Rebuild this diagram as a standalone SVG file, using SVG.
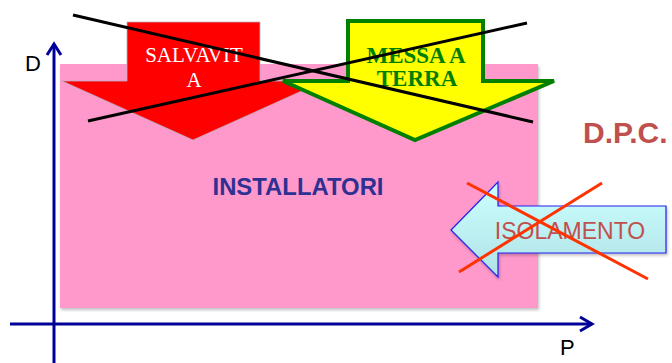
<svg xmlns="http://www.w3.org/2000/svg" width="672" height="363" viewBox="0 0 672 363">
<defs>
<style>
.ax{stroke:#000099;stroke-width:3;fill:none}
.lbl{font-family:"Liberation Sans",Arial,sans-serif;font-size:22px;fill:#000}
.cross{stroke:#000;stroke-width:3}
.rx{stroke:#ff3300;stroke-width:3}
</style>
<linearGradient id="cy" x1="0" y1="0" x2="0" y2="1">
<stop offset="0" stop-color="#ccffff"/>
<stop offset="1" stop-color="#b0e2e6"/>
</linearGradient>
<filter id="sh" x="-5%" y="-5%" width="110%" height="110%">
<feDropShadow dx="1" dy="2" stdDeviation="1.5" flood-color="#000" flood-opacity="0.25"/>
</filter>
</defs>
<rect width="672" height="363" fill="#fff"/>
<g id="installatori">
<rect x="60" y="64" width="478" height="244" fill="#ff99cc" filter="url(#sh)"/>
<text x="298" y="195" font-family="Liberation Sans,Arial,sans-serif" font-weight="bold" font-size="23" fill="#2e3192" text-anchor="middle" textLength="171" lengthAdjust="spacingAndGlyphs">INSTALLATORI</text>
</g>
<g id="axes">
<line class="ax" x1="54" y1="44" x2="54" y2="363"/>
<polyline class="ax" points="47,55 54,44 61,55"/>
<line class="ax" x1="10" y1="324" x2="592" y2="324"/>
<polyline class="ax" points="580,317 592,324 580,331"/>
<text class="lbl" x="25" y="71">D</text>
<text class="lbl" x="560" y="355">P</text>
</g>
<g id="salvavita">
<polygon points="127,22 260,22 260,81 324,81 193,140 62,81 127,81" fill="#ff0000" stroke="#b0b0c0" stroke-width="0.8"/>
<text font-family="Liberation Serif,'Times New Roman',serif" font-size="21" fill="#fff" text-anchor="middle"><tspan x="194" y="62">SALVAVIT</tspan><tspan x="194" y="87">A</tspan></text>
</g>
<g id="messa-a-terra">
<polygon points="348,21 483,21 483,81 554,81 415,140 283,81 348,81" fill="#ffff00" stroke="#008000" stroke-width="4" stroke-linejoin="miter"/>
<text font-family="Liberation Serif,'Times New Roman',serif" font-size="23" font-weight="bold" fill="#008000" text-anchor="middle"><tspan x="416" y="63">MESSA A</tspan><tspan x="417" y="86">TERRA</tspan></text>
</g>
<g id="connectors">
<line class="cross" x1="73" y1="15" x2="533" y2="122"/>
<line class="cross" x1="88" y1="121" x2="527" y2="23"/>
</g>
<g id="dpc">
<text x="583" y="143" font-family="Liberation Sans,Arial,sans-serif" font-weight="bold" font-size="30" fill="#c0504d">D.P.C.</text>
</g>
<g id="isolamento">
<polygon points="451,230 498,182 498,206 666,206 666,253 498,253 498,277" fill="url(#cy)" stroke="#2222ee" stroke-width="1.2" filter="url(#sh)"/>
<text x="570" y="239" font-family="Liberation Sans,Arial,sans-serif" font-size="23" fill="#c0504d" text-anchor="middle">ISOLAMENTO</text>
<line class="rx" x1="467" y1="183" x2="648" y2="279"/>
<line class="rx" x1="602" y1="183" x2="459" y2="272"/>
</g>
</svg>
